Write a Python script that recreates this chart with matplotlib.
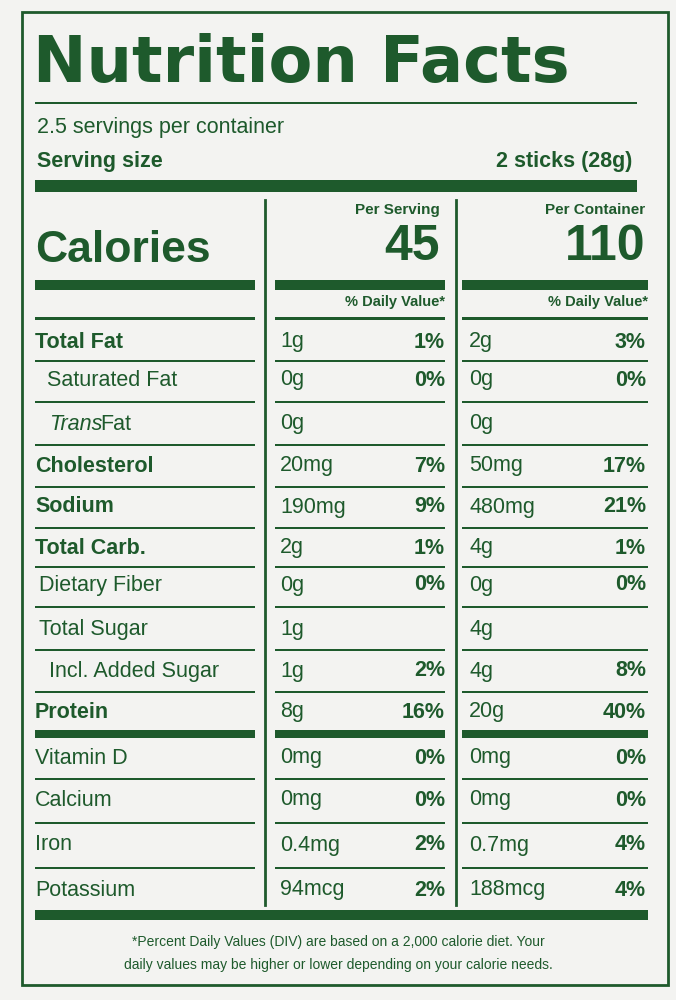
import matplotlib.pyplot as plt
from matplotlib.patches import Rectangle

green = "#1e5a2c"
bg = "#f3f3f1"

# label data
servings_text = "2.5 servings per container"
serving_size = "2 sticks (28g)"
cal_serving = "45"
cal_container = "110"
rows = ["Total Fat", "Saturated Fat", "Trans Fat", "Cholesterol", "Sodium", "Total Carb.",
        "Dietary Fiber", "Total Sugar", "Incl. Added Sugar", "Protein",
        "Vitamin D", "Calcium", "Iron", "Potassium"]
bold_rows = ["Total Fat", "Cholesterol", "Sodium", "Total Carb.", "Protein"]
indent = {"Saturated Fat": 12, "Trans Fat": 14, "Dietary Fiber": 4, "Total Sugar": 4, "Incl. Added Sugar": 14}
amt_serving = ["1g", "0g", "0g", "20mg", "190mg", "2g", "0g", "1g", "1g", "8g", "0mg", "0mg", "0.4mg", "94mcg"]
dv_serving = ["1%", "0%", "", "7%", "9%", "1%", "0%", "", "2%", "16%", "0%", "0%", "2%", "2%"]
amt_container = ["2g", "0g", "0g", "50mg", "480mg", "4g", "0g", "4g", "4g", "20g", "0mg", "0mg", "0.7mg", "188mcg"]
dv_container = ["3%", "0%", "", "17%", "21%", "1%", "0%", "", "8%", "40%", "0%", "0%", "4%", "4%"]
row_y = [342, 380, 424, 466, 507, 548, 585, 629, 671, 712, 758, 800, 845, 890]
footnote = ["*Percent Daily Values (DIV) are based on a 2,000 calorie diet. Your",
            "daily values may be higher or lower depending on your calorie needs."]

plt.rcParams['font.family'] = ['Liberation Sans', 'DejaVu Sans']
fig = plt.figure(figsize=(6.76, 10), dpi=100, facecolor=bg)
ax = fig.add_axes([0, 0, 1, 1])
ax.set_xlim(0, 676)
ax.set_ylim(1000, 0)
ax.axis('off')

def bar(x0, x1, y, h):
    ax.add_patch(Rectangle((x0, y - h / 2), x1 - x0, h, color=green, lw=0))

def txt(x, y, s, size, bold=False, ha='left', style='normal'):
    ax.text(x, y, s, fontsize=size, color=green, ha=ha, va='center',
            fontweight='bold' if bold else 'normal', fontstyle=style)

ax.add_patch(Rectangle((22, 12), 646, 973, fill=False, ec=green, lw=2))

ax.text(33, 64, "Nutrition Facts", fontsize=46, color=green, va='center',
        fontweight='bold', family='DejaVu Sans')
bar(35, 637, 103, 2)
txt(37, 128, servings_text, 15.5)
txt(37, 162, "Serving size", 15.5, bold=True)
txt(632, 162, serving_size, 15.5, bold=True, ha='right')
bar(35, 637, 186, 12)

# column dividers
ax.plot([265, 265], [200, 905], color=green, lw=2)
ax.plot([456, 456], [200, 905], color=green, lw=2)

txt(440, 210, "Per Serving", 11, bold=True, ha='right')
txt(440, 247, cal_serving, 36, bold=True, ha='right')
txt(645, 210, "Per Container", 11, bold=True, ha='right')
txt(645, 247, cal_container, 36, bold=True, ha='right')
txt(35, 250, "Calories", 32, bold=True)
bar(35, 255, 285, 10)
bar(275, 445, 285, 10)
bar(462, 648, 285, 10)
txt(445, 302, "% Daily Value*", 10.5, bold=True, ha='right')
txt(648, 302, "% Daily Value*", 10.5, bold=True, ha='right')
bar(35, 255, 318, 3)
bar(275, 445, 318, 3)
bar(462, 648, 318, 3)

for i, name in enumerate(rows):
    y = row_y[i]
    b = name in bold_rows
    if name == "Trans Fat":
        ax.text(49, y, "Trans", fontsize=15.5, color=green, va='center', fontstyle='italic')
        txt(100, y, "Fat", 15.5)
    else:
        txt(35 + indent.get(name, 0), y, name, 15.5, bold=b)
    txt(280, y, amt_serving[i], 15.5)
    txt(445, y, dv_serving[i], 15.5, bold=True, ha='right')
    txt(469, y, amt_container[i], 15.5)
    txt(646, y, dv_container[i], 15.5, bold=True, ha='right')
    if i < len(rows) - 1:
        y_sep = (row_y[i] + row_y[i + 1]) / 2
        h = 8 if name == "Protein" else 2
        if name == "Protein":
            y_sep = 734
        bar(35, 255, y_sep, h)
        bar(275, 445, y_sep, h)
        bar(462, 648, y_sep, h)

bar(35, 648, 915, 10)
txt(338, 942, footnote[0], 10, ha='center')
txt(338, 965, footnote[1], 10, ha='center')

fig.savefig("out.png", dpi=100, facecolor=bg)
